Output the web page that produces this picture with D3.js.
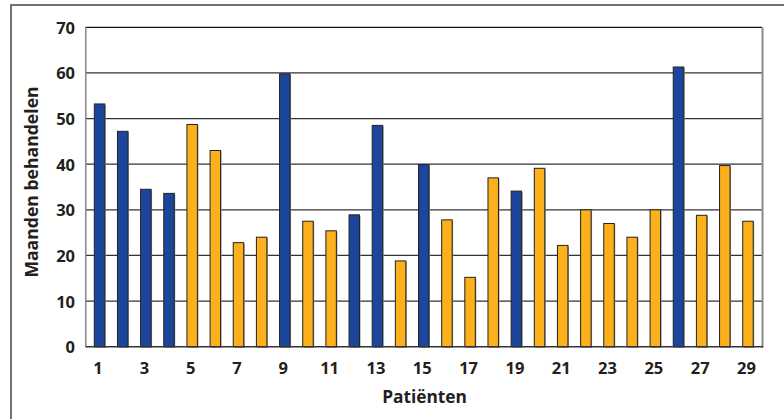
<!DOCTYPE html>
<html><head><meta charset="utf-8">
<script src="https://cdn.jsdelivr.net/npm/d3@7"></script>
<style>body{margin:0;background:#fff}svg{display:block}text{font-family:"Open Sans",sans-serif;font-weight:700;fill:#231f20}</style>
</head><body>
<script>
const patients = d3.range(1, 30);
const months = [53.2,47.2,34.5,33.6,48.7,43.0,22.8,24.0,59.8,27.5,25.4,28.9,48.5,18.8,39.9,27.8,15.2,37.0,34.1,39.1,22.2,30.0,27.0,24.0,30.0,61.3,28.8,39.7,27.5];
const group = ["b","b","b","b","o","o","o","o","b","o","o","b","b","o","b","o","o","o","b","o","o","o","o","o","o","b","o","o","o"];
const yTicks = [0,10,20,30,40,50,60,70];
const xTickLabels = [1,3,5,7,9,11,13,15,17,19,21,23,25,27,29];
const colors = {b:"#1c459c", o:"#fbb01c"};

const W = 784, H = 419;
const svg = d3.select("body").append("svg").attr("width", W).attr("height", H);
svg.append("rect").attr("x",11).attr("y",5).attr("width",800).attr("height",500)
  .attr("fill","none").attr("stroke","#444").attr("stroke-width",1.5);

const x = d3.scaleBand().domain(patients).range([85.5, 762]).paddingInner(0.547).paddingOuter(0.38);
const y = d3.scaleLinear().domain([0,70]).range([346.7, 27.3]);

// gridlines
svg.append("g").selectAll("line").data(yTicks.filter(d=>d>0)).join("line")
  .attr("x1",85.5).attr("x2",762).attr("y1",d=>y(d)).attr("y2",d=>y(d))
  .attr("stroke", d=> d===70 ? "#111" : "#333").attr("stroke-width",1.3);
// plot frame sides
svg.append("line").attr("x1",85.8).attr("x2",85.8).attr("y1",y(70)).attr("y2",y(0)).attr("stroke","#888").attr("stroke-width",1.5);
svg.append("line").attr("x1",762.5).attr("x2",762.5).attr("y1",y(70)).attr("y2",y(0)+1).attr("stroke","#888").attr("stroke-width",2);

// bars shadow
const g = svg.append("g");
g.selectAll("rect.sh").data(patients).join("rect").attr("class","sh")
  .attr("x",d=>x(d)+1).attr("y",(d,i)=>y(months[i])+1)
  .attr("width",x.bandwidth()).attr("height",(d,i)=>y(0)-y(months[i]))
  .attr("fill","#9a9a9a");
g.selectAll("rect.bar").data(patients).join("rect").attr("class","bar")
  .attr("x",d=>x(d)).attr("y",(d,i)=>y(months[i]))
  .attr("width",x.bandwidth()).attr("height",(d,i)=>y(0)-y(months[i]))
  .attr("fill",(d,i)=>colors[group[i]]).attr("stroke","#222").attr("stroke-width",1);

// x axis line
svg.append("line").attr("x1",85.5).attr("x2",763).attr("y1",y(0)).attr("y2",y(0)).attr("stroke","#333").attr("stroke-width",1.5);

// y axis labels
const yAxis = d3.axisLeft(y).tickValues(yTicks).tickSize(0).tickPadding(0);
const ya = svg.append("g").attr("transform","translate(75,0)").call(yAxis);
ya.select(".domain").remove();
ya.selectAll("text").attr("font-size",16.5).attr("font-family",null).attr("dy","0.36em");

const xAxis = d3.axisBottom(x).tickValues(xTickLabels).tickSize(0).tickPadding(0);
const xa = svg.append("g").attr("transform",`translate(-1.5,${y(0)})`).call(xAxis);
xa.select(".domain").remove();
xa.selectAll("text").attr("font-size",16.5).attr("font-family",null).attr("dy",null).attr("y",27);

svg.append("text").attr("x",424.5).attr("y",402.5).attr("text-anchor","middle").attr("font-size",17.3).text("Patiënten");
svg.append("text").attr("transform","translate(37.5,182) rotate(-90)").attr("text-anchor","middle").attr("font-size",17.6).text("Maanden behandelen");
</script>
</body></html>
